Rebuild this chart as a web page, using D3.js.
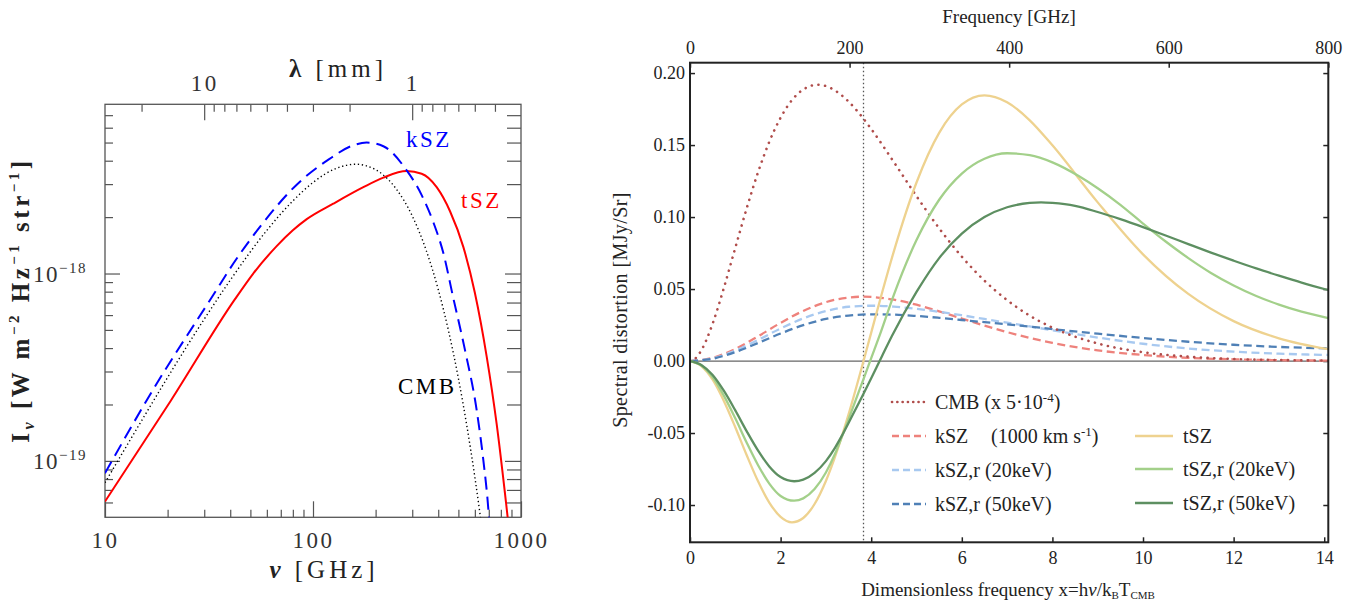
<!DOCTYPE html>
<html><head><meta charset="utf-8">
<script src="https://cdn.jsdelivr.net/npm/d3@7"></script>
<style>body{margin:0;background:#fff}svg{display:block}</style>
</head><body>
<svg id="c" width="1356" height="606"></svg>
<script>
// ================= DATA =================
// Left panel: intensity (W m^-2 Hz^-1 sr^-1) vs frequency (GHz)
const cmbNu = [10,15,20,30,40,60,80,100,130,160,200,250,300,350,400,450,500,550,600,650];
const cmbI  = [7.65e-20,1.64e-19,2.79e-19,5.71e-19,9.21e-19,1.70e-18,2.44e-18,3.06e-18,3.65e-18,3.83e-18,3.58e-18,2.85e-18,2.03e-18,1.33e-18,8.22e-19,4.85e-19,2.76e-19,1.52e-19,8.19e-20,4.31e-20];
const kszNu = [10,17.1,33.2,41.4,56.6,83.5,118.6,153.6,181,217.9,276.7,333,378.7,423,472.6,538,612,659,697,705];
const kszI  = [8.6e-20,2.42e-19,7.7e-19,1.13e-18,1.82e-18,2.98e-18,4.05e-18,4.80e-18,5.0e-18,4.78e-18,3.66e-18,2.62e-18,1.88e-18,1.29e-18,7.4e-19,3.9e-19,1.87e-19,1.01e-19,5.48e-20,4.6e-20];
const tszNu = [10,20.75,42,51.6,66.9,80,93.3,125.2,174.6,217.9,282.2,333,393.2,455.8,528,600,684,764,847,870];
const tszI  = [6.07e-20,2.1e-19,7.25e-19,1.0e-18,1.40e-18,1.70e-18,1.95e-18,2.36e-18,2.89e-18,3.25e-18,3.52e-18,3.41e-18,2.89e-18,2.15e-18,1.387e-18,7.89e-19,3.6e-19,1.57e-19,6.0e-20,4.6e-20];
const leftNuTicksMajor = [10,100,1000];
const leftNuTicksMinor = [20,30,40,50,60,70,80,90,200,300,400,500,600,700,800,900];
const leftLamMajor = [10,1];
const leftLamMinor = [20,9,8,7,6,5,4,3,2,0.9,0.8,0.7,0.6,0.5,0.4];
const leftIMajor = [1e-19,1e-18];
const leftIMinor = [6e-20,7e-20,8e-20,9e-20,2e-19,3e-19,4e-19,5e-19,6e-19,7e-19,8e-19,9e-19,2e-18,3e-18,4e-18,5e-18,6e-18,7e-18];

// Right panel: spectral distortion (MJy/Sr) vs dimensionless frequency x
const cmbX = [0,0.1,0.25,0.5,0.75,1,1.25,1.5,1.75,2,2.25,2.5,2.82,3,3.25,3.5,3.83,4,4.5,5,5.5,6,6.5,7,7.5,8,9,10,11,12,13,14.09];
const cmbV = [0,0.0013,0.0074,0.0260,0.0510,0.0786,0.1059,0.1309,0.1522,0.1690,0.1812,0.1886,0.1919,0.1910,0.1869,0.1802,0.1683,0.1612,0.1382,0.1145,0.0922,0.0725,0.0558,0.0423,0.0315,0.0232,0.0122,0.0061,0.0030,0.0014,0.0007,0.0003];
const kszX = [0,0.5,1,1.5,2,2.5,3,3.5,3.83,4,4.5,5,5.5,6,6.5,7,7.5,8,9,10,11,12,13,14.09];
const kszV = [0,0.0022,0.0084,0.0171,0.0265,0.0348,0.0409,0.0441,0.0447,0.0445,0.0426,0.0391,0.0345,0.0295,0.0246,0.0201,0.0160,0.0126,0.0074,0.0042,0.0022,0.0012,0.0006,0.0003];
const ksz20X = [0,0.5,1,1.5,2,2.5,3,3.5,4,4.5,5,5.5,6,6.5,7,7.5,8,9,10,11,12,13,14.09];
const ksz20V = [0,0.0019,0.0072,0.0146,0.0226,0.0296,0.0347,0.0377,0.0384,0.0378,0.0362,0.0342,0.0318,0.0292,0.0266,0.0240,0.0214,0.0163,0.0120,0.0087,0.0065,0.0051,0.0042];
const ksz50X = [0,0.5,1,1.5,2,2.5,3,3.5,4,4.5,5,5.5,6,6.5,7,7.5,8,9,10,11,12,13,14.09];
const ksz50V = [0,0.0016,0.0062,0.0125,0.0191,0.0249,0.0292,0.0316,0.0324,0.0322,0.0313,0.0300,0.0285,0.0270,0.0255,0.0239,0.0222,0.0190,0.0160,0.0134,0.0113,0.0098,0.0088];
const tszX = [0,0.25,0.5,0.75,1,1.25,1.5,1.75,2,2.25,2.5,2.75,3,3.25,3.5,3.83,4,4.25,4.5,5,5.5,6,6.5,7,7.5,8,9,10,11,12,13,14.09];
const tszV = [0,-0.0035,-0.0130,-0.0279,-0.0460,-0.0653,-0.0834,-0.0983,-0.1082,-0.1120,-0.1090,-0.0993,-0.0833,-0.0621,-0.0370,0,0.0197,0.0486,0.0762,0.1240,0.1585,0.1782,0.1845,0.1797,0.1672,0.1498,0.1102,0.0741,0.0466,0.0277,0.0158,0.0082];
const tsz20X = [0,0.25,0.5,0.75,1,1.25,1.5,1.75,2,2.3,2.5,2.75,3,3.2,3.35,3.5,3.83,4,4.2,4.5,5,5.5,6,6.5,7,7.5,8,8.58,9,9.5,10,10.5,11,11.5,12,12.5,13,13.5,14.09];
const tsz20V = [0,-0.0031,-0.0113,-0.0242,-0.0398,-0.0566,-0.0722,-0.0851,-0.0937,-0.0970,-0.0954,-0.0889,-0.0774,-0.0646,-0.0529,-0.0405,-0.0125,0.0020,0.0190,0.0460,0.0840,0.1120,0.1302,0.1405,0.1443,0.1430,0.1380,0.1285,0.1200,0.1085,0.0955,0.0830,0.0715,0.0612,0.0525,0.0452,0.0392,0.0343,0.0298];
const tsz50X = [0,0.25,0.5,0.75,1,1.25,1.5,1.75,2,2.3,2.5,2.75,3,3.2,3.35,3.5,3.83,4,4.24,4.46,5,5.5,6,6.5,7,7.5,7.75,8,8.5,9,9.5,10,10.5,11,11.5,12,12.5,13,13.5,14.09];
const tsz50V = [0,-0.0027,-0.0097,-0.0208,-0.0343,-0.0487,-0.0621,-0.0732,-0.0806,-0.0835,-0.0824,-0.0777,-0.0695,-0.0603,-0.0520,-0.0430,-0.0228,-0.0120,0.0035,0.0175,0.0480,0.0715,0.0885,0.1000,0.1068,0.1098,0.1102,0.1098,0.1078,0.1035,0.0985,0.0930,0.0872,0.0812,0.0753,0.0697,0.0643,0.0593,0.0545,0.0493];
const rightXTicks = [0,2,4,6,8,10,12,14];
const rightFTicks = [0,200,400,600,800];
const rightYTicks = [-0.10,-0.05,0.00,0.05,0.10,0.15,0.20];

// ================= DRAW =================
const svg = d3.select("#c");
const SERIF = "'Liberation Serif','DejaVu Serif',serif";

function rich(g, x, y, parts, attrs) {
  const t = g.append("text").attr("x", x).attr("y", y);
  for (const k in attrs) t.attr(k, attrs[k]);
  let cur = 0;
  parts.forEach(p => {
    const s = t.append("tspan").text(p.t);
    const target = p.sup ? -p.sup : (p.sub ? p.sub : 0);
    if (target !== cur) { s.attr("dy", target - cur); cur = target; }
    if (p.fs) s.attr("font-size", p.fs);
    if (p.dx) s.attr("dx", p.dx);
    if (p.style) s.attr("font-style", p.style);
    if (p.fw) s.attr("font-weight", p.fw);
  });
  return t;
}

// ---------- LEFT PANEL ----------
const L = {x0:105, x1:521, y0:104.3, y1:517.3};
const xL = d3.scaleLog().domain([10,1000]).range([L.x0, L.x1]);
const yL = d3.scaleLog().domain([5e-20, 8e-18]).range([L.y1, L.y0]);
const C_LIGHT = 299.79; // GHz*mm
const lamL = d3.scaleLog().domain([C_LIGHT/10, C_LIGHT/1000]).range([L.x0, L.x1]);

const gl = svg.append("g");
svg.append("clipPath").attr("id","clipL").append("rect")
  .attr("x",L.x0).attr("y",L.y0).attr("width",L.x1-L.x0).attr("height",L.y1-L.y0);

function axisStyle(g, col, w) {
  g.select(".domain").remove();
  g.selectAll(".tick line").attr("stroke", col).attr("stroke-width", w);
}
const lblL = g=>g.selectAll("text").attr("font-family",SERIF).attr("font-size",23).attr("fill","#333").attr("letter-spacing",2.5);
// bottom
gl.append("g").attr("transform",`translate(0,${L.y1})`)
  .call(d3.axisBottom(xL).tickValues(leftNuTicksMinor).tickSize(-7.5).tickFormat(""))
  .call(g=>axisStyle(g,"#555",1.2));
gl.append("g").attr("transform",`translate(0,${L.y1})`)
  .call(d3.axisBottom(xL).tickValues(leftNuTicksMajor).tickSize(-16).tickPadding(14).tickFormat(d3.format("d")))
  .call(g=>axisStyle(g,"#555",1.2)).call(lblL);
// top (wavelength)
gl.append("g").attr("transform",`translate(0,${L.y0})`)
  .call(d3.axisTop(lamL).tickValues(leftLamMinor).tickSize(-7.5).tickFormat(""))
  .call(g=>axisStyle(g,"#555",1.2));
gl.append("g").attr("transform",`translate(0,${L.y0})`)
  .call(d3.axisTop(lamL).tickValues(leftLamMajor).tickSize(-16).tickPadding(13).tickFormat(d3.format("d")))
  .call(g=>axisStyle(g,"#555",1.2)).call(lblL);
// left / right
gl.append("g").attr("transform",`translate(${L.x0},0)`)
  .call(d3.axisLeft(yL).tickValues(leftIMinor).tickSize(-8).tickFormat(""))
  .call(g=>axisStyle(g,"#555",1.2));
gl.append("g").attr("transform",`translate(${L.x0},0)`)
  .call(d3.axisLeft(yL).tickValues(leftIMajor).tickSize(-15).tickFormat(""))
  .call(g=>axisStyle(g,"#555",1.2));
gl.append("g").attr("transform",`translate(${L.x1},0)`)
  .call(d3.axisRight(yL).tickValues(leftIMinor).tickSize(-14).tickFormat(""))
  .call(g=>axisStyle(g,"#555",1.2));
gl.append("g").attr("transform",`translate(${L.x1},0)`)
  .call(d3.axisRight(yL).tickValues(leftIMajor).tickSize(-16).tickFormat(""))
  .call(g=>axisStyle(g,"#555",1.2));
// y tick labels 10^-18, 10^-19
[[1e-18,"−18"],[1e-19,"−19"]].forEach(([v,e])=>{
  rich(gl, 33, yL(v)+8, [{t:"10"},{t:e,sup:9,fs:15}],
    {"font-family":SERIF,"font-size":23,"fill":"#333","letter-spacing":1.5});
});
// frame
gl.append("rect").attr("x",L.x0).attr("y",L.y0).attr("width",L.x1-L.x0).attr("height",L.y1-L.y0)
  .attr("fill","none").attr("stroke","#555").attr("stroke-width",1.3);

const lineL = d3.line().x(d=>xL(d[0])).y(d=>yL(d[1])).curve(d3.curveMonotoneX);
const pl = gl.append("g").attr("clip-path","url(#clipL)");
pl.append("path").datum(d3.zip(tszNu,tszI)).attr("d",lineL)
  .attr("fill","none").attr("stroke","#ff0000").attr("stroke-width",2);
pl.append("path").datum(d3.zip(cmbNu,cmbI)).attr("d",lineL)
  .attr("fill","none").attr("stroke","#000").attr("stroke-width",1.4).attr("stroke-dasharray","1.3,2.7");
pl.append("path").datum(d3.zip(kszNu,kszI)).attr("d",lineL)
  .attr("fill","none").attr("stroke","#0000ff").attr("stroke-width",2).attr("stroke-dasharray","13,7");

// curve labels
const CL = {"font-family":SERIF,"font-size":23,"letter-spacing":2.5};
gl.append("text").attr("x",406).attr("y",147).text("kSZ").attr("fill","#0000ff")
  .attr("font-family",CL["font-family"]).attr("font-size",CL["font-size"]).attr("letter-spacing",CL["letter-spacing"]);
gl.append("text").attr("x",461).attr("y",208).text("tSZ").attr("fill","#ff0000")
  .attr("font-family",CL["font-family"]).attr("font-size",CL["font-size"]).attr("letter-spacing",CL["letter-spacing"]);
gl.append("text").attr("x",398).attr("y",394).text("CMB").attr("fill","#000")
  .attr("font-family",CL["font-family"]).attr("font-size",CL["font-size"]).attr("letter-spacing",CL["letter-spacing"]);
// axis titles
rich(gl, 324, 578, [{t:"ν",style:"italic",fw:"bold"},{t:"  [GHz]"}],
  {"font-family":SERIF,"font-size":25,"fill":"#222","text-anchor":"middle","letter-spacing":4});
rich(gl, 338, 77, [{t:"λ",fw:"bold"},{t:"  [mm]"}],
  {"font-family":SERIF,"font-size":25,"fill":"#222","text-anchor":"middle","letter-spacing":4});
rich(gl, 0, 0, [{t:"I"},{t:"ν",sub:5,fs:16,style:"italic"},{t:"  [W  m"},{t:"−2",sup:10,fs:15},{t:"  Hz"},{t:"−1",sup:10,fs:15},{t:"  str"},{t:"−1",sup:10,fs:15},{t:"]"}],
  {"font-family":SERIF,"font-size":25,"fill":"#222","text-anchor":"middle","letter-spacing":3.5,"font-weight":"bold","transform":"translate(29,300) rotate(-90)"});

// ---------- RIGHT PANEL ----------
const R = {x0:690, x1:1328.3, y0:62.7, y1:542.3};
const xR = d3.scaleLinear().domain([0,14.09]).range([R.x0,R.x1]);
const fR = d3.scaleLinear().domain([0,800]).range([R.x0,R.x1]);
const yR = d3.scaleLinear().domain([-0.1259,0.2072]).range([R.y1,R.y0]);
const gr = svg.append("g");
svg.append("clipPath").attr("id","clipR").append("rect")
  .attr("x",R.x0).attr("y",R.y0).attr("width",R.x1-R.x0).attr("height",R.y1-R.y0);

const tickTxt = g=>g.selectAll("text").attr("font-family",SERIF).attr("font-size",18).attr("fill","#222");
gr.append("g").attr("transform",`translate(0,${R.y1})`)
  .call(d3.axisBottom(xR).tickValues(rightXTicks).tickSize(-5).tickPadding(9).tickFormat(d3.format("d")))
  .call(g=>axisStyle(g,"#222",1.5)).call(tickTxt);
gr.append("g").attr("transform",`translate(0,${R.y0})`)
  .call(d3.axisTop(fR).tickValues(rightFTicks).tickSize(-5).tickPadding(9).tickFormat(d3.format("d")))
  .call(g=>axisStyle(g,"#222",1.5)).call(tickTxt);
gr.append("g").attr("transform",`translate(${R.x0},0)`)
  .call(d3.axisLeft(yR).tickValues(rightYTicks).tickSize(-5).tickPadding(5).tickFormat(d=>d3.format(".2f")(d).replace("−","-")))
  .call(g=>axisStyle(g,"#222",1.5)).call(tickTxt);
gr.append("g").attr("transform",`translate(${R.x1},0)`)
  .call(d3.axisRight(yR).tickValues(rightYTicks).tickSize(-5).tickFormat(""))
  .call(g=>axisStyle(g,"#222",1.5));

const pr = gr.append("g").attr("clip-path","url(#clipR)");
// zero line and x=3.83 marker
pr.append("line").attr("x1",R.x0).attr("x2",R.x1).attr("y1",yR(0)).attr("y2",yR(0))
  .attr("stroke","#666").attr("stroke-width",1.2);
pr.append("line").attr("x1",xR(3.83)).attr("x2",xR(3.83)).attr("y1",R.y0).attr("y2",R.y1)
  .attr("stroke","#555").attr("stroke-width",1.3).attr("stroke-dasharray","1.5,2.5");

const lineR = d3.line().x(d=>xR(d[0])).y(d=>yR(d[1])).curve(d3.curveMonotoneX);
const COL = {cmb:"#b04d4b", ksz:"#ee827c", ksz20:"#a8c9f0", ksz50:"#4f80b6", tsz:"#eed28f", tsz20:"#a3d08a", tsz50:"#5d8f61"};
const series = [
  {x:kszX, v:kszV, c:COL.ksz, dash:"8,4.5"},
  {x:ksz20X, v:ksz20V, c:COL.ksz20, dash:"8,4.5"},
  {x:ksz50X, v:ksz50V, c:COL.ksz50, dash:"8,4.5"},
  {x:cmbX, v:cmbV, c:COL.cmb, dash:"0.1,6.6", cap:"round", w:2.6},
  {x:tszX, v:tszV, c:COL.tsz},
  {x:tsz20X, v:tsz20V, c:COL.tsz20},
  {x:tsz50X, v:tsz50V, c:COL.tsz50}
];
series.forEach(s=>{
  pr.append("path").datum(d3.zip(s.x,s.v)).attr("d",lineR)
    .attr("fill","none").attr("stroke",s.c).attr("stroke-width",s.w||2.3)
    .attr("stroke-dasharray",s.dash||null).attr("stroke-linecap",s.cap||"butt");
});

// frame
gr.append("rect").attr("x",R.x0).attr("y",R.y0).attr("width",R.x1-R.x0).attr("height",R.y1-R.y0)
  .attr("fill","none").attr("stroke","#222").attr("stroke-width",2);

// legend
const LF = {"font-family":SERIF,"font-size":20,"fill":"#222"};
const leg = gr.append("g");
function legLine(x1,x2,y,c,dash,cap,w){
  leg.append("line").attr("x1",x1).attr("x2",x2).attr("y1",y).attr("y2",y)
    .attr("stroke",c).attr("stroke-width",w||2.3).attr("stroke-dasharray",dash||null).attr("stroke-linecap",cap||"butt");
}
const ly = [402,436,470,504];
legLine(892,926,ly[0],COL.cmb,"0.1,5.2","round",2.6);
legLine(892,926,ly[1],COL.ksz,"7,4");
legLine(892,926,ly[2],COL.ksz20,"7,4");
legLine(892,926,ly[3],COL.ksz50,"7,4");
rich(leg,935,ly[0]+7,[{t:"CMB (x 5·10"},{t:"-4",sup:7,fs:13},{t:")"}],LF);
rich(leg,935,ly[1]+7,[{t:"kSZ"}],LF);
rich(leg,991,ly[1]+7,[{t:"(1000 km s"},{t:"-1",sup:7,fs:13},{t:")"}],LF);
rich(leg,935,ly[2]+7,[{t:"kSZ,r (20keV)"}],LF);
rich(leg,935,ly[3]+7,[{t:"kSZ,r (50keV)"}],LF);
legLine(1135,1173,ly[1],COL.tsz);
legLine(1135,1173,ly[2]-1,COL.tsz20);
legLine(1135,1173,ly[3]-1,COL.tsz50);
rich(leg,1183,ly[1]+7,[{t:"tSZ"}],LF);
rich(leg,1183,ly[2]+6,[{t:"tSZ,r (20keV)"}],LF);
rich(leg,1183,ly[3]+6,[{t:"tSZ,r (50keV)"}],LF);

// axis titles
gr.append("text").attr("x",1009).attr("y",23).attr("text-anchor","middle").text("Frequency [GHz]")
  .attr("font-family",SERIF).attr("font-size",19).attr("fill","#222");
rich(gr,1008,596,[{t:"Dimensionless frequency x=h"},{t:"ν",style:"italic"},{t:"/k"},{t:"B",sub:3,fs:11},{t:"T"},{t:"CMB",sub:3,fs:11}],
  Object.assign({},LF,{"font-size":19,"text-anchor":"middle"}));
gr.append("text").attr("transform","translate(627,310) rotate(-90)").attr("text-anchor","middle")
  .text("Spectral distortion [MJy/Sr]").attr("font-family",SERIF).attr("font-size",20).attr("letter-spacing",0.4).attr("fill","#222");
</script>
</body></html>
